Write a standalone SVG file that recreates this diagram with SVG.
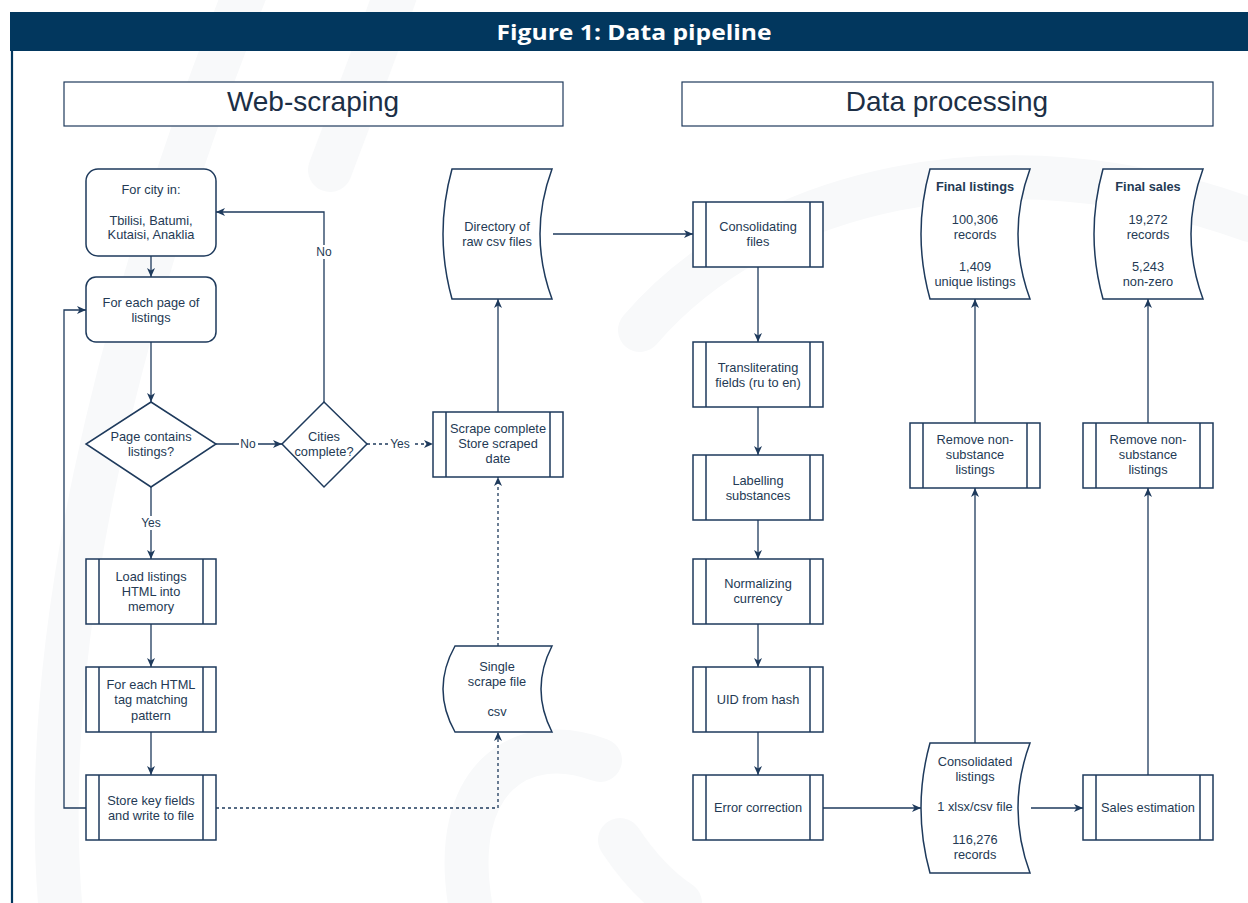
<svg xmlns="http://www.w3.org/2000/svg" width="1248" height="903" viewBox="0 0 1248 903">
<defs>
<style>
.t{font-family:"Liberation Sans",Arial,sans-serif;font-size:12.8px;fill:#243a54;text-anchor:middle}
.b{font-weight:bold}
.lbl{font-family:"Liberation Sans",Arial,sans-serif;font-size:12px;fill:#243a54;text-anchor:middle}
.sec{font-family:"Liberation Sans",Arial,sans-serif;font-size:28px;fill:#1c2f46;text-anchor:middle}
.shape{fill:#ffffff;stroke:#1e3a5c;stroke-width:1.5}
.in{stroke:#1e3a5c;stroke-width:1.5;fill:none}
.c{fill:none;stroke:#1e3a5c;stroke-width:1.3}
.d{stroke-dasharray:3,3}
.wm{fill:none;stroke:#f8f9fa;stroke-width:44;stroke-linecap:round}
</style>
<marker id="ah" markerUnits="userSpaceOnUse" markerWidth="10" markerHeight="8" refX="9" refY="4" orient="auto">
<path d="M0,0 L9,4 L0,8 L2.5,4 Z" fill="#1e3a5c"/>
</marker>
</defs>
<rect width="1248" height="903" fill="#ffffff"/>
<g id="watermark">
<path class="wm" d="M60,903 C40,650 110,330 250,-20"/>
<path class="wm" d="M330,170 C360,90 380,40 400,-20"/>
<path class="wm" d="M640,330 C760,190 1000,130 1250,220"/>
<path class="wm" d="M470,903 C450,780 520,730 600,760"/>
<path class="wm" d="M620,840 C640,870 660,890 680,903"/>
</g>
<g id="frame">
<rect x="10" y="12" width="1238" height="39" fill="#02375e"/>
<line x1="12" y1="51" x2="12" y2="903" stroke="#02375e" stroke-width="2.2"/>
<text x="634" y="40" font-family="'Open Sans',Lato,sans-serif" font-size="21" font-weight="bold" fill="#ffffff" text-anchor="middle" textLength="275" lengthAdjust="spacingAndGlyphs">Figure 1: Data pipeline</text>
</g>
<g id="sec-web">
<rect x="64" y="82" width="499" height="44" fill="#ffffff" stroke="#1e3a5c" stroke-width="1.2"/>
<text class="sec" x="313" y="111">Web-scraping</text>
</g>
<g id="sec-data">
<rect x="682" y="82" width="531" height="44" fill="#ffffff" stroke="#1e3a5c" stroke-width="1.2"/>
<text class="sec" x="947" y="111">Data processing</text>
</g>

<g id="connectors">
<path class="c" d="M151,256 L151,277" marker-end="url(#ah)"/>
<path class="c" d="M151,342 L151,402" marker-end="url(#ah)"/>
<path class="c" d="M151,487 L151,559" marker-end="url(#ah)"/>
<path class="c" d="M151,624 L151,667" marker-end="url(#ah)"/>
<path class="c" d="M151,732 L151,775" marker-end="url(#ah)"/>
<path class="c" d="M86,808 L64,808 L64,310 L86,310" marker-end="url(#ah)"/>
<path class="c" d="M216,444 L282,444" marker-end="url(#ah)"/>
<path class="c" d="M324,402 L324,212 L216,212" marker-end="url(#ah)"/>
<path class="c d" d="M367,444 L433,444" marker-end="url(#ah)"/>
<path class="c" d="M498,412 L498,299" marker-end="url(#ah)"/>
<path class="c d" d="M216,808 L498,808 L498,732" marker-end="url(#ah)"/>
<path class="c d" d="M498,646 L498,477" marker-end="url(#ah)"/>
<path class="c" d="M553,234 L693,234" marker-end="url(#ah)"/>
<path class="c" d="M758,267 L758,342" marker-end="url(#ah)"/>
<path class="c" d="M758,407 L758,455" marker-end="url(#ah)"/>
<path class="c" d="M758,520 L758,559" marker-end="url(#ah)"/>
<path class="c" d="M758,624 L758,667" marker-end="url(#ah)"/>
<path class="c" d="M758,732 L758,775" marker-end="url(#ah)"/>
<path class="c" d="M823,808 L921,808" marker-end="url(#ah)"/>
<path class="c" d="M1031,808 L1083,808" marker-end="url(#ah)"/>
<path class="c" d="M975,743 L975,488" marker-end="url(#ah)"/>
<path class="c" d="M975,423 L975,299" marker-end="url(#ah)"/>
<path class="c" d="M1148,775 L1148,488" marker-end="url(#ah)"/>
<path class="c" d="M1148,423 L1148,299" marker-end="url(#ah)"/>
<rect x="139" y="516" width="24" height="14" fill="#ffffff"/>
<text class="lbl" x="151" y="527">Yes</text>
<rect x="239" y="437" width="19" height="14" fill="#ffffff"/>
<text class="lbl" x="248" y="448">No</text>
<rect x="315" y="245" width="19" height="14" fill="#ffffff"/>
<text class="lbl" x="324" y="256">No</text>
<rect x="389" y="437" width="23" height="14" fill="#ffffff"/>
<text class="lbl" x="400" y="448">Yes</text>
</g>

<g id="for-city">
<rect class="shape" x="86" y="169" width="130" height="87" rx="12"/>
<text class="t" x="151" y="194">For city in:</text>
<text class="t" x="151" y="225">Tbilisi, Batumi,</text>
<text class="t" x="151" y="239">Kutaisi, Anaklia</text>
</g>
<g id="for-page">
<rect class="shape" x="86" y="277" width="130" height="65" rx="10"/>
<text class="t" x="151" y="307">For each page of</text>
<text class="t" x="151" y="322">listings</text>
</g>
<g id="page-contains">
<polygon class="shape" points="151,402 216,444 151,487 86,444"/>
<text class="t" x="151" y="441">Page contains</text>
<text class="t" x="151" y="456">listings?</text>
</g>
<g id="cities-complete">
<polygon class="shape" points="324,402 367,444 324,487 282,444"/>
<text class="t" x="324" y="441">Cities</text>
<text class="t" x="324" y="456">complete?</text>
</g>
<g id="load-listings">
<rect class="shape" x="86" y="559" width="130" height="65"/>
<path class="in" d="M99,559 V624 M203,559 V624"/>
<text class="t" x="151" y="581">Load listings</text>
<text class="t" x="151" y="596">HTML into</text>
<text class="t" x="151" y="611">memory</text>
</g>
<g id="for-each-html">
<rect class="shape" x="86" y="667" width="130" height="65"/>
<path class="in" d="M99,667 V732 M203,667 V732"/>
<text class="t" x="151" y="689">For each HTML</text>
<text class="t" x="151" y="704">tag matching</text>
<text class="t" x="151" y="720">pattern</text>
</g>
<g id="store-key">
<rect class="shape" x="86" y="775" width="130" height="65"/>
<path class="in" d="M99,775 V840 M203,775 V840"/>
<text class="t" x="151" y="805">Store key fields</text>
<text class="t" x="151" y="820">and write to file</text>
</g>
<g id="scrape-complete">
<rect class="shape" x="433" y="412" width="130" height="65"/>
<path class="in" d="M446,412 V477 M550,412 V477"/>
<text class="t" x="498" y="433">Scrape complete</text>
<text class="t" x="498" y="448">Store scraped</text>
<text class="t" x="498" y="463">date</text>
</g>
<g id="directory">
<path class="shape" d="M452,169 L552,169 Q528,234 552,299 L452,299 Q434,234 452,169 Z"/>
<text class="t" x="497" y="231">Directory of</text>
<text class="t" x="497" y="246">raw csv files</text>
</g>
<g id="single-scrape">
<path class="shape" d="M455,646 L552,646 Q530,689 552,732 L455,732 Q431,689 455,646 Z"/>
<text class="t" x="497" y="671">Single</text>
<text class="t" x="497" y="686">scrape file</text>
<text class="t" x="497" y="716">csv</text>
</g>

<g id="consolidating">
<rect class="shape" x="693" y="202" width="130" height="65"/>
<path class="in" d="M706,202 V267 M810,202 V267"/>
<text class="t" x="758" y="231">Consolidating</text>
<text class="t" x="758" y="246">files</text>
</g>
<g id="transliterating">
<rect class="shape" x="693" y="342" width="130" height="65"/>
<path class="in" d="M706,342 V407 M810,342 V407"/>
<text class="t" x="758" y="372">Transliterating</text>
<text class="t" x="758" y="387">fields (ru to en)</text>
</g>
<g id="labelling">
<rect class="shape" x="693" y="455" width="130" height="65"/>
<path class="in" d="M706,455 V520 M810,455 V520"/>
<text class="t" x="758" y="485">Labelling</text>
<text class="t" x="758" y="500">substances</text>
</g>
<g id="normalizing">
<rect class="shape" x="693" y="559" width="130" height="65"/>
<path class="in" d="M706,559 V624 M810,559 V624"/>
<text class="t" x="758" y="588">Normalizing</text>
<text class="t" x="758" y="603">currency</text>
</g>
<g id="uid">
<rect class="shape" x="693" y="667" width="130" height="65"/>
<path class="in" d="M706,667 V732 M810,667 V732"/>
<text class="t" x="758" y="704">UID from hash</text>
</g>
<g id="error-correction">
<rect class="shape" x="693" y="775" width="130" height="65"/>
<path class="in" d="M706,775 V840 M810,775 V840"/>
<text class="t" x="758" y="812">Error correction</text>
</g>
<g id="consolidated">
<path class="shape" d="M930,743 L1030,743 Q1006,808 1030,873 L930,873 Q912,808 930,743 Z"/>
<text class="t" x="975" y="766">Consolidated</text>
<text class="t" x="975" y="781">listings</text>
<text class="t" x="975" y="811">1 xlsx/csv file</text>
<text class="t" x="975" y="844">116,276</text>
<text class="t" x="975" y="859">records</text>
</g>
<g id="remove1">
<rect class="shape" x="910" y="423" width="130" height="65"/>
<path class="in" d="M923,423 V488 M1027,423 V488"/>
<text class="t" x="975" y="444">Remove non-</text>
<text class="t" x="975" y="459">substance</text>
<text class="t" x="975" y="474">listings</text>
</g>
<g id="final-listings">
<path class="shape" d="M930,169 L1030,169 Q1006,234 1030,299 L930,299 Q912,234 930,169 Z"/>
<text class="t b" x="975" y="191">Final listings</text>
<text class="t" x="975" y="224">100,306</text>
<text class="t" x="975" y="239">records</text>
<text class="t" x="975" y="271">1,409</text>
<text class="t" x="975" y="286">unique listings</text>
</g>
<g id="sales-estimation">
<rect class="shape" x="1083" y="775" width="130" height="65"/>
<path class="in" d="M1096,775 V840 M1200,775 V840"/>
<text class="t" x="1148" y="812">Sales estimation</text>
</g>
<g id="remove2">
<rect class="shape" x="1083" y="423" width="130" height="65"/>
<path class="in" d="M1096,423 V488 M1200,423 V488"/>
<text class="t" x="1148" y="444">Remove non-</text>
<text class="t" x="1148" y="459">substance</text>
<text class="t" x="1148" y="474">listings</text>
</g>
<g id="final-sales">
<path class="shape" d="M1103,169 L1203,169 Q1179,234 1203,299 L1103,299 Q1085,234 1103,169 Z"/>
<text class="t b" x="1148" y="191">Final sales</text>
<text class="t" x="1148" y="224">19,272</text>
<text class="t" x="1148" y="239">records</text>
<text class="t" x="1148" y="271">5,243</text>
<text class="t" x="1148" y="286">non-zero</text>
</g>
</svg>
